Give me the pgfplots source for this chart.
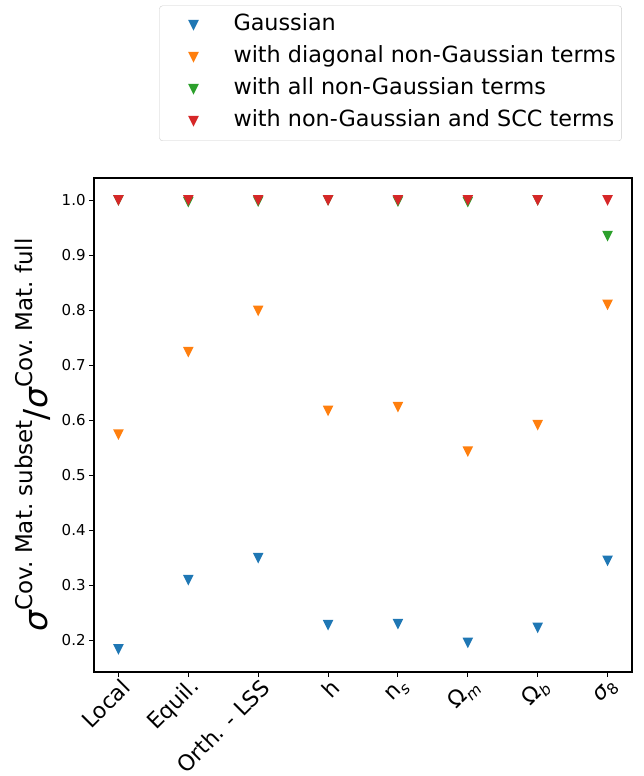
\documentclass[border=0pt]{standalone}
\usepackage{pgfplots}
\pgfplotsset{compat=1.18}
\usepackage{pgfplotstable}
\usepackage{fontspec}
\setmainfont{DejaVu Sans}
\definecolor{tabblue}{HTML}{1F77B4}
\definecolor{taborange}{HTML}{FF7F0E}
\definecolor{tabgreen}{HTML}{2CA02C}
\definecolor{tabred}{HTML}{D62728}
\pgfdeclareplotmark{tridown}{%
  \pgfpathmoveto{\pgfqpoint{-\pgfplotmarksize}{\pgfplotmarksize}}%
  \pgfpathlineto{\pgfqpoint{\pgfplotmarksize}{\pgfplotmarksize}}%
  \pgfpathlineto{\pgfqpoint{0pt}{-\pgfplotmarksize}}%
  \pgfpathclose\pgfusepathqfill}
\newcommand\sub[1]{\raisebox{-0.22em}{\fontsize{15.4bp}{16bp}\selectfont #1}}
\newcommand\sups[1]{\raisebox{0.45em}{\fontsize{23bp}{24bp}\selectfont #1}}
\pgfplotstableread{
x g d a s
0 0.183 0.574 1.000 1.000
1 0.309 0.724 0.997 1.000
2 0.349 0.799 0.998 1.000
3 0.227 0.617 1.000 1.000
4 0.229 0.624 0.998 1.000
5 0.195 0.543 0.997 1.000
6 0.222 0.591 1.000 1.000
7 0.344 0.810 0.935 1.000
}\datatable
\begin{document}
\begin{tikzpicture}
\useasboundingbox (0bp,0bp) rectangle (644bp,776bp);
\begin{axis}[
  at={(94bp,104bp)}, anchor=south west,
  scale only axis, width=538bp, height=494bp,
  xmin=-0.35, xmax=7.35, ymin=0.142, ymax=1.041,
  xtick={0,1,2,3,4,5,6,7},
  xticklabels={Local, Equil., Orth. - LSS, h, {n\sub{\itshape s}}, {Ω\sub{\itshape m}}, {Ω\sub{\itshape b}}, {{\itshape σ}\sub{8}}},
  ytick={0.2,0.3,0.4,0.5,0.6,0.7,0.8,0.9,1.0},
  /pgf/number format/assume math mode=true,
  yticklabel style={font=\fontsize{15bp}{18bp}\selectfont, /pgf/number format/.cd, fixed, fixed zerofill, precision=1},
  xticklabel style={font=\fontsize{22bp}{26bp}\selectfont, xshift=9bp, yshift=-5bp, rotate=45, anchor=east, inner sep=2bp},
  tick pos=left, tick align=outside, major tick length=4.9bp,
  tick style={black, line width=1.1bp},
  axis line style={line width=1.1bp},
  ylabel={{\itshape σ}\sups{Cov.\ Mat.\ subset}/{\itshape σ}\sups{Cov.\ Mat.\ full}},
  ylabel style={font=\fontsize{33bp}{36bp}\selectfont, at={(axis description cs:-0.113,0.48)}, anchor=center},
  mark size=5.3bp,
  legend cell align=left,
  legend image code/.code={\path[draw=none,fill=none] (0bp,0bp) (68bp,0bp); \draw[#1] plot coordinates {(30bp,0bp)};},
  legend style={at={(0.981,1.349)}, anchor=north east, draw=black!20, rounded corners=3bp,
    font=\fontsize{22.3bp}{26bp}\selectfont, inner xsep=4bp, inner ysep=7bp, row sep=7bp,
    nodes={inner sep=2bp, text height=16bp, text depth=5bp}},
]
\addplot[only marks, mark=tridown, color=tabblue] table[x=x, y=g] {\datatable};
\addlegendentry{Gaussian}
\addplot[only marks, mark=tridown, color=taborange] table[x=x, y=d] {\datatable};
\addlegendentry{with diagonal non-Gaussian terms}
\addplot[only marks, mark=tridown, color=tabgreen] table[x=x, y=a] {\datatable};
\addlegendentry{with all non-Gaussian terms}
\addplot[only marks, mark=tridown, color=tabred] table[x=x, y=s] {\datatable};
\addlegendentry{with non-Gaussian and SCC terms}
\end{axis}
\end{tikzpicture}
\end{document}
